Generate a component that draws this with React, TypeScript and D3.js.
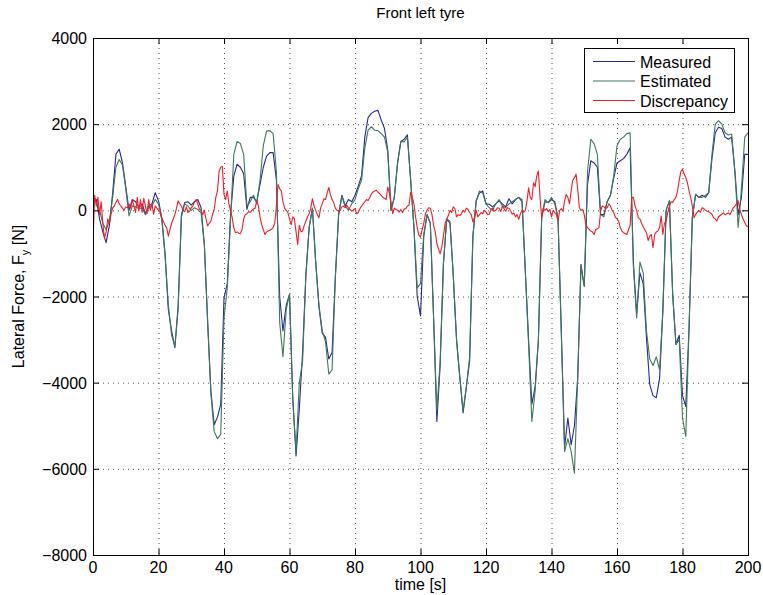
import React from "react";
import * as d3 from "d3";

// Lateral tyre force, front left: measured vs. estimated, sampled each second
const timeS: number[] = d3.range(0, 201, 1);

const measured: number[] = [
  300, 250, -200, -500, -750, -350, 400, 1300, 1420, 1100,
  550, 0, 250, 200, 60, 150, -80, 100, 150, 410,
  220, -170, -1000, -2300, -2800, -3190, -2200, -100, 180, 200,
  120, 200, 250, 60, -790, -2600, -4200, -4975, -4800, -4500,
  -2030, -1700, -100, 800, 1070, 1000, 850, 20, 300, 300,
  200, 600, 1000, 1260, 1340, 1340, 700, -2000, -2800, -2200,
  -1950, -4355, -5700, -4600, -3300, -1500, -400, 50, -1200, -2250,
  -2850, -2950, -3450, -3300, -1550, -100, 350, 100, 250, 200,
  350, 560, 800, 1700, 2150, 2250, 2300, 2320, 2100, 1900,
  1400, 0, 300, 1100, 1600, 1650, 1750, 700, -400, -2000,
  -2450, -600, -100, -300, -2500, -4900, -3600, -1240, -200, -300,
  -1500, -3000, -3850, -4700, -4100, -3500, -600, 230, 400, 450,
  150, 140, 80, 150, 220, 150, 80, 270, 150, 250,
  300, 200, -1400, -3000, -4500, -4100, -3000, -170, 200, 180,
  250, 200, -200, -2800, -5500, -4820, -5440, -5000, -3890, -1255,
  -1760, 600, 1150, 1100, 1000, -100, -100, 200, 350, 750,
  1100, 1150, 1200, 1300, 1450, -1200, -2400, -1450, -1700, -2960,
  -4045, -4300, -4350, -3900, -2340, 0, 220, -1950, -3115, -2900,
  -4300, -4550, -2730, -170, 370, 300, 350, 300, 410, 1200,
  1800, 1930, 1900, 1700, 1650, 1700, 900, -100, 300, 1300,
  1300,
];

const estimated: number[] = [
  250, 200, 0, -300, -450, -250, 300, 1000, 1180, 1050,
  500, -130, 100, 80, 40, 60, -100, 50, 100, 255,
  150, -200, -1050, -2200, -2900, -3150, -2300, -150, 150, 100,
  0, 60, 20, -60, -800, -2550, -4250, -5130, -5300, -5200,
  -2500, -1800, -200, 1300, 1600, 1550, 1300, 100, 200, 350,
  150, 700, 1500, 1840, 1850, 1780, 900, -2600, -3400, -2300,
  -1950, -4400, -5600, -4000, -3500, -1500, -400, 50, -1200, -2200,
  -2800, -3050, -3800, -3700, -1550, -100, 330, 100, 0, 150,
  250, 500, 700, 1450, 1860, 1940, 1860, 1850, 1780, 1700,
  1350, 0, 300, 1100, 1600, 1590, 1700, 700, -400, -1800,
  -1700, -550, -100, -300, -2500, -4650, -3500, -1240, -200, -250,
  -1500, -3000, -3900, -4650, -4100, -3400, -600, 200, 450, 400,
  150, 60, 0, 150, 250, 100, 60, 150, 200, 250,
  300, 250, -1400, -3100, -4900, -4200, -3000, -170, 250, 180,
  300, 150, -200, -2900, -5600, -5300, -5600, -6100, -3900, -1300,
  -1760, 900, 1650, 1550, 1300, -100, -150, 200, 350, 800,
  1500, 1650, 1700, 1780, 1800, -1300, -2500, -1200, -1450, -2800,
  -3450, -3600, -3400, -3700, -2340, 0, 220, -1950, -3115, -3000,
  -4820, -5250, -2730, -170, 370, 300, 300, 350, 410, 1300,
  2000, 2080, 2000, 1800, 1750, 1770, 900, -400, 500, 1700,
  1800,
];

// Discrepancy, sampled each half second
const discTimeS: number[] = d3.range(0, 200.25, 0.5);

const discrepancy: number[] = [
  -750, 350, 100, 300, -100, 200, -300, -650, -500, -200,
  -300, -100, 60, 100, 180, 250, 150, 100, 50, 0,
  80, 60, 150, 50, 250, 100, -50, 300, 0, 250,
  -50, 280, 100, -80, 250, 0, 150, -90, 100, 50,
  0, -50, -200, -250, -350, -400, -600, -450, -300, -200,
  -100, 50, 220, 150, 100, 0, -30, 80, -50, -20,
  60, 100, 200, 250, 150, 30, 0, -100, 0, -200,
  -360, -300, -250, -100, 20, 300, 450, 900, 1000, 1020,
  370, 250, 450, 150, 0, -170, -400, -520, -500, -530,
  -540, -450, -200, -100, -80, -30, -50, 0, 30, 50,
  220, 100, -150, -330, -450, -560, -500, -480, -460, -440,
  -400, -300, 100, 600, 500, 450, 200, 50, 0, -50,
  -200, -330, -150, -200, -500, -790, -350, -500, -480, -350,
  -250, -150, -80, 50, 270, 100, 0, -100, -170, 50,
  150, 270, 250, 400, 530, 370, 250, 180, 50, 0,
  -20, 0, 80, 100, 60, 120, 50, 20, -20, 10,
  40, -80, -50, 40, 100, 150, 200, 250, 230, 300,
  380, 425, 450, 465, 420, 390, 350, 300, 280, 250,
  540, 400, 200, -80, 50, 20, 0, -40, 20, -50,
  30, 40, 100, 120, 425, 300, 150, -155, -400, -580,
  -620, -450, -300, -80, 0, 60, 50, -100, -350, -500,
  -775, -900, -1010, -850, -600, -310, -200, -120, 0, -50,
  80, 40, -150, -100, -120, -80, 0, -40, 50, 20,
  -50, -100, -270, -150, 0, -150, -100, -50, -80, 0,
  -40, -100, -90, 20, 50, -20, 0, 60, 50, -30,
  100, 40, -20, 60, 50, -10, -90, -60, -150, -100,
  -210, -80, 0, -50, 0, 200, 525, 300, 250, 640,
  550, 800, 915, 300, -170, 60, 0, 40, -30, 20,
  -150, 0, -50, -100, -250, 0, 40, -20, 220, 370,
  300, 150, 450, 700, 760, 840, 500, 60, 0, 20,
  -100, -325, -400, -440, -480, -500, -560, -450, -430, -400,
  -20, 100, 80, 40, 60, 150, 100, 0, -50, -160,
  -200, -250, -400, -480, -520, -540, -560, -450, -350, 295,
  300, 100, 0, -170, -200, -300, -380, -450, -520, -700,
  -600, -560, -865, -560, -500, -480, -400, -130, -560, -300,
  -250, -50, 100, 200, 180, 250, 300, 450, 700, 900,
  950, 850, 760, 640, 450, 300, 100, -170, -100, -40,
  0, -40, 60, 40, 0, -20, -30, -60, -90, -170,
  -200, -250, -150, -120, -90, -60, -100, -80, -60, -100,
  -20, 60, 100, 150, 220, 20, -100, -200, -280, -360,
  -380,
];

const xTicks: number[] = [0, 20, 40, 60, 80, 100, 120, 140, 160, 180, 200];
const yTicks: number[] = [-8000, -6000, -4000, -2000, 0, 2000, 4000];

const seriesNames: string[] = ["Measured", "Estimated", "Discrepancy"];
const seriesColors: string[] = ["#262a91", "#3f7a58", "#f21d26"];

const W = 763;
const H = 595;
const left = 93;
const right = 748;
const top = 38;
const bottom = 555;
const FONT = "'Liberation Sans', Arial, Helvetica, sans-serif";

export default function App() {
  const x = d3.scaleLinear().domain([0, 200]).range([left, right]);
  const y = d3.scaleLinear().domain([-8000, 4000]).range([bottom, top]);

  const line = d3
    .line<[number, number]>()
    .x((d) => x(d[0]))
    .y((d) => y(d[1]));

  const mPts: [number, number][] = timeS.map((t, i) => [t, measured[i]]);
  const ePts: [number, number][] = timeS.map((t, i) => [t, estimated[i]]);
  const dPts: [number, number][] = discTimeS.map((t, i) => [t, discrepancy[i]]);
  const paths = [mPts, ePts, dPts];

  const tickLen = 6;
  const fmt = (v: number) => (v < 0 ? "\u2212" + Math.abs(v) : String(v));

  const legX = 584;
  const legY = 48;
  const legW = 150;
  const legH = 64;
  const rowY = [61.5, 81, 100.5];

  return (
    <svg
      width={W}
      height={H}
      style={{ position: "absolute", left: 0, top: 0, background: "#fff" }}
      fontFamily={FONT}
    >
      <rect x={0} y={0} width={W} height={H} fill="#fff" />
      <defs>
        <clipPath id="plot-area">
          <rect x={left} y={top} width={right - left} height={bottom - top} />
        </clipPath>
      </defs>

      {/* grid */}
      <g stroke="#555" strokeWidth={1} strokeDasharray="1,4">
        {xTicks.slice(1, -1).map((t) => (
          <line key={"gx" + t} x1={x(t) + 0.5} x2={x(t) + 0.5} y1={top} y2={bottom} />
        ))}
        {yTicks.slice(1, -1).map((v) => (
          <line key={"gy" + v} x1={left} x2={right} y1={y(v) + 0.5} y2={y(v) + 0.5} />
        ))}
      </g>

      {/* data */}
      <g clipPath="url(#plot-area)" fill="none" strokeWidth={1.1} strokeLinejoin="round">
        {paths.map((p, i) => (
          <path key={seriesNames[i]} d={line(p) ?? ""} stroke={seriesColors[i]} />
        ))}
      </g>

      {/* axes box and inward ticks */}
      <g stroke="#000" strokeWidth={1}>
        <rect x={left + 0.5} y={top + 0.5} width={right - left} height={bottom - top} fill="none" />
        {xTicks.map((t) => (
          <g key={"tx" + t}>
            <line x1={x(t) + 0.5} x2={x(t) + 0.5} y1={bottom} y2={bottom - tickLen} />
            <line x1={x(t) + 0.5} x2={x(t) + 0.5} y1={top} y2={top + tickLen} />
          </g>
        ))}
        {yTicks.map((v) => (
          <g key={"ty" + v}>
            <line x1={left} x2={left + tickLen} y1={y(v) + 0.5} y2={y(v) + 0.5} />
            <line x1={right} x2={right - tickLen} y1={y(v) + 0.5} y2={y(v) + 0.5} />
          </g>
        ))}
      </g>

      {/* tick labels */}
      <g fontSize={16} fill="#000">
        {xTicks.map((t) => (
          <text key={"lx" + t} x={x(t)} y={bottom + 18} textAnchor="middle">
            {fmt(t)}
          </text>
        ))}
        {yTicks.map((v) => (
          <text key={"ly" + v} x={left - 6} y={y(v) + 6} textAnchor="end">
            {fmt(v)}
          </text>
        ))}
      </g>

      {/* titles */}
      <text x={(left + right) / 2} y={18} textAnchor="middle" fontSize={15}>
        Front left tyre
      </text>
      <text x={(left + right) / 2} y={590} textAnchor="middle" fontSize={16}>
        time [s]
      </text>
      <text
        transform={`translate(24, ${(top + bottom) / 2}) rotate(-90)`}
        textAnchor="middle"
        fontSize={16}
      >
        Lateral Force, F
        <tspan fontSize={11} dy={5}>y</tspan>
        <tspan dy={-5}> [N]</tspan>
      </text>

      {/* legend */}
      <rect x={legX + 0.5} y={legY + 0.5} width={legW} height={legH} fill="#fff" stroke="#000" />
      {seriesNames.map((name, i) => (
        <g key={"leg" + name}>
          <line x1={593} x2={635} y1={rowY[i]} y2={rowY[i]} stroke={seriesColors[i]} strokeWidth={1.1} />
          <text x={640} y={rowY[i] + 6} fontSize={16}>
            {name}
          </text>
        </g>
      ))}
    </svg>
  );
}
